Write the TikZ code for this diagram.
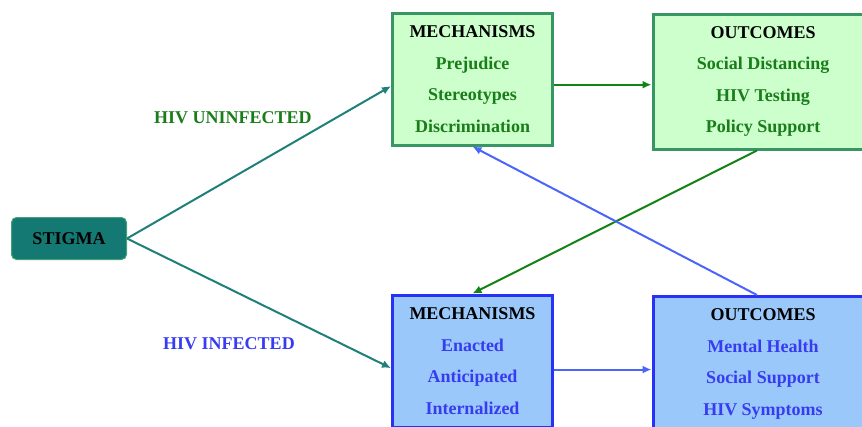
\documentclass[tikz,border=0pt]{standalone}
\usepackage{fontspec}
\setmainfont{Liberation Serif}
\usepackage{tikz}
\usetikzlibrary{arrows.meta}
\usetikzlibrary{positioning}
\definecolor{stigmafill}{RGB}{20,120,115}
\definecolor{stigmaline}{RGB}{70,160,120}
\definecolor{tealarrow}{RGB}{30,128,120}
\definecolor{uninfline}{RGB}{55,150,100}
\definecolor{uninffill}{RGB}{204,255,204}
\definecolor{uninftext}{RGB}{25,125,25}
\definecolor{uninfarrow}{RGB}{20,130,20}
\definecolor{infline}{RGB}{40,50,245}
\definecolor{inffill}{RGB}{155,200,250}
\definecolor{inftext}{RGB}{55,60,240}
\definecolor{infarrow}{RGB}{75,100,250}
\tikzset{bigfont/.style={font=\fontsize{18}{31.5}\selectfont\bfseries}}
\tikzset{box/.style={rectangle, line width=3pt, align=center, bigfont}}
\tikzset{uninf/.style={box, draw=uninfline, fill=uninffill, text=uninftext}}
\tikzset{inf/.style={box, draw=infline, fill=inffill, text=inftext}}
\tikzset{mech/.style={minimum width=160pt, minimum height=132pt}}
\tikzset{outc/.style={minimum width=220pt, minimum height=135pt}}
\newcommand{\boxhead}[1]{\textcolor{black}{#1}}

\begin{document}
\begin{tikzpicture}[x=1pt,y=-1pt,>={Latex[length=9pt,width=8pt]}]
   \useasboundingbox (0,0) rectangle (862,426);
   \clip (0,0) rectangle (862,426);

   \node[rectangle, rounded corners=5pt, draw=stigmaline, fill=stigmafill, line width=1pt,
         minimum width=115pt, minimum height=42pt, bigfont] (stigma) at (69,238.5) {STIGMA};

   \node[uninf, mech] (mech1) at (472.5,79)
      {\boxhead{MECHANISMS}\\ Prejudice\\ Stereotypes\\ Discrimination};
   \node[uninf, outc] (out1) at (763,81.5)
      {\boxhead{OUTCOMES}\\ Social Distancing\\ HIV Testing\\ Policy Support};
   \node[inf, mech] (mech2) at (472.5,361)
      {\boxhead{MECHANISMS}\\ Enacted\\ Anticipated\\ Internalized};
   \node[inf, outc] (out2) at (763,364)
      {\boxhead{OUTCOMES}\\ Mental Health\\ Social Support\\ HIV Symptoms};

   \node[bigfont, text=uninftext] (uninf) at (233,118) {HIV UNINFECTED};
   \node[bigfont, text=inftext] (inf) at (229,344) {HIV INFECTED};

   \path[->, line width=2pt]
      (stigma.east) edge [tealarrow] (mech1.185)
      (stigma.east) edge [tealarrow] (mech2.185)
      (mech1.-4) edge [uninfarrow] (mech1.-4 -| out1.west)
      (out1.265) edge [uninfarrow] (mech2.north)
      (out2.95) edge [infarrow] (mech1.south)
      (mech2.-6) edge [infarrow] (mech2.-6 -| out2.west)
   ;
\end{tikzpicture}
\end{document}
